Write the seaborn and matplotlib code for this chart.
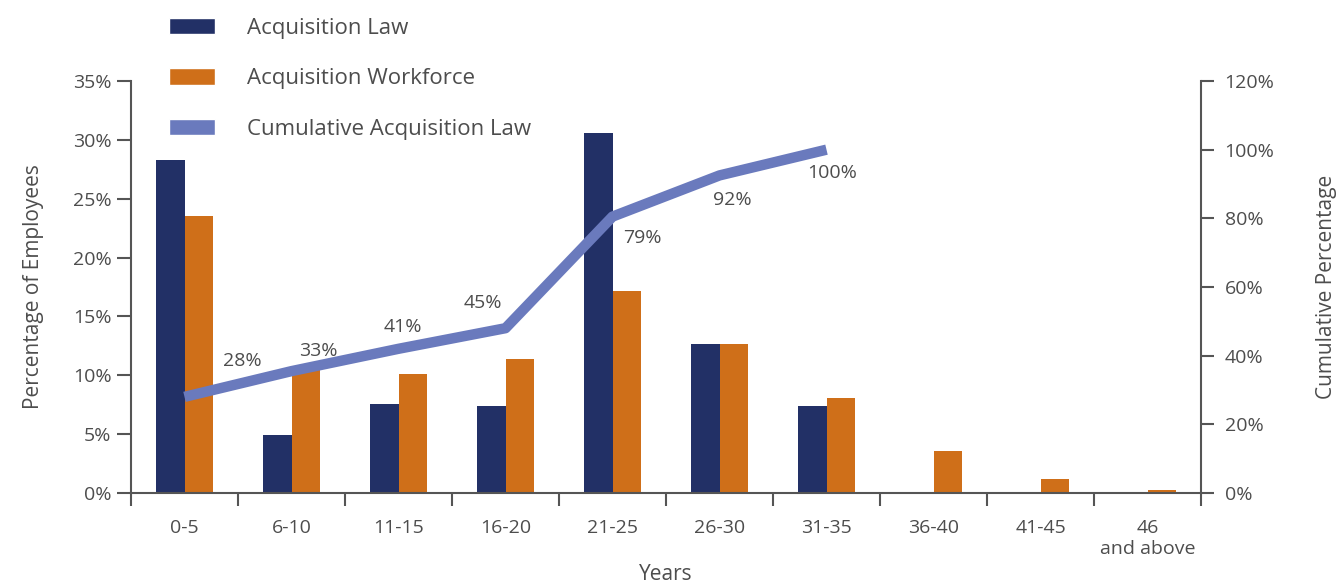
import numpy as np
import pandas as pd
import matplotlib
matplotlib.use("Agg")
import matplotlib.pyplot as plt
from matplotlib.patches import Patch
from matplotlib.ticker import FuncFormatter, FixedLocator
import seaborn as sns

# ---- data ----
categories = ["0-5", "6-10", "11-15", "16-20", "21-25", "26-30", "31-35",
              "36-40", "41-45", "46\nand above"]
acq_law = [28.3, 4.9, 7.6, 7.4, 30.6, 12.7, 7.4, 0.0, 0.0, 0.0]
acq_workforce = [23.5, 10.7, 10.1, 11.4, 17.2, 12.7, 8.1, 3.6, 1.2, 0.25]
cum_law = [28, 35.5, 42, 48, 80.5, 92.5, 100]
cum_labels = ["28%", "33%", "41%", "45%", "79%", "92%", "100%"]
series_names = ["Acquisition Law", "Acquisition Workforce", "Cumulative Acquisition Law"]

# ---- style ----
NAVY = "#223066"
ORANGE = "#CF6F19"
LINE = "#6A7ABD"
GREY = "#4d4d4d"
SPINE = "#555555"
label_offsets = [(58, 36), (27, 20), (4, 22), (-23, 25), (30, -21), (13, -25), (6, -23)]

sns.set_theme(style="white")
plt.rcParams["font.family"] = ["Open Sans", "DejaVu Sans"]
plt.rcParams["text.color"] = GREY

df = pd.DataFrame({
    "Years": categories * 2,
    "value": acq_law + acq_workforce,
    "series": [series_names[0]] * len(categories) + [series_names[1]] * len(categories),
})

fig = plt.figure(figsize=(13.43, 5.85), dpi=100)
ax = fig.add_axes([131 / 1343, 92 / 585, (1201 - 131) / 1343, (493 - 81) / 585])

sns.barplot(data=df, x="Years", y="value", hue="series", order=categories,
            hue_order=series_names[:2], palette=[NAVY, ORANGE], width=0.54,
            saturation=1, ax=ax, legend=False, linewidth=0)

ax.set_xlim(-0.5, len(categories) - 0.5)
ax.set_ylim(0, 35)
ax.set_yticks(np.arange(0, 36, 5))
ax.yaxis.set_major_formatter(FuncFormatter(lambda v, p: f"{v:.0f}%"))

# x ticks: marks at boundaries, labels at centers
ax.set_xticks(np.arange(-0.5, len(categories), 1.0))
ax.set_xticklabels([])
ax.xaxis.set_minor_locator(FixedLocator(np.arange(len(categories))))
ax.set_xticklabels(categories, minor=True)
ax.tick_params(axis="x", which="major", direction="out", length=9, width=1.5,
               color=SPINE, bottom=True)
ax.tick_params(axis="x", which="minor", length=0, pad=19, labelsize=14,
               labelcolor=GREY, bottom=True)
ax.tick_params(axis="y", direction="out", length=10, width=1.5, color=SPINE,
               labelsize=14, labelcolor=GREY, left=True, pad=4)

ax.set_xlabel("Years", fontsize=15, color=GREY, labelpad=4)
ax.set_ylabel("Percentage of Employees", fontsize=15, color=GREY, labelpad=21)

for s in ["top", "right"]:
    ax.spines[s].set_visible(False)
for s in ["left", "bottom"]:
    ax.spines[s].set_color(SPINE)
    ax.spines[s].set_linewidth(1.5)

# ---- cumulative line ----
ax2 = ax.twinx()
x_cum = np.arange(len(cum_law))
sns.lineplot(x=x_cum, y=cum_law, ax=ax2, color=LINE, linewidth=7.5,
             solid_capstyle="butt", legend=False)
ax2.set_xlim(-0.5, len(categories) - 0.5)
ax2.set_ylim(0, 120)
ax2.set_yticks(np.arange(0, 121, 20))
ax2.yaxis.set_major_formatter(FuncFormatter(lambda v, p: f"{v:.0f}%"))
ax2.tick_params(axis="y", direction="out", length=9, width=1.5, color=SPINE,
                labelsize=14, labelcolor=GREY, right=True, pad=8)
ax2.set_ylabel("Cumulative Percentage", fontsize=15, color=GREY, labelpad=30)
for s in ["top", "left", "bottom"]:
    ax2.spines[s].set_visible(False)
ax2.spines["right"].set_color(SPINE)
ax2.spines["right"].set_linewidth(1.5)
ax2.grid(False)
ax.grid(False)

for xi, yi, lab, off in zip(x_cum, cum_law, cum_labels, label_offsets):
    ax2.annotate(lab, (xi, yi), xytext=(off[0] * 0.72, off[1] * 0.72),
                 textcoords="offset points", ha="center", va="center",
                 fontsize=14, color=GREY)

# ---- legend ----
handles = [Patch(facecolor=NAVY), Patch(facecolor=ORANGE), Patch(facecolor=LINE)]
fig.legend(handles, series_names, loc="upper left",
           bbox_to_anchor=(160 / 1343, 1 - 9 / 585), frameon=False,
           fontsize=16, handlelength=2.07, handleheight=0.77,
           handletextpad=1.45, labelspacing=1.32, borderaxespad=0)

fig.savefig("out.png", dpi=100)
